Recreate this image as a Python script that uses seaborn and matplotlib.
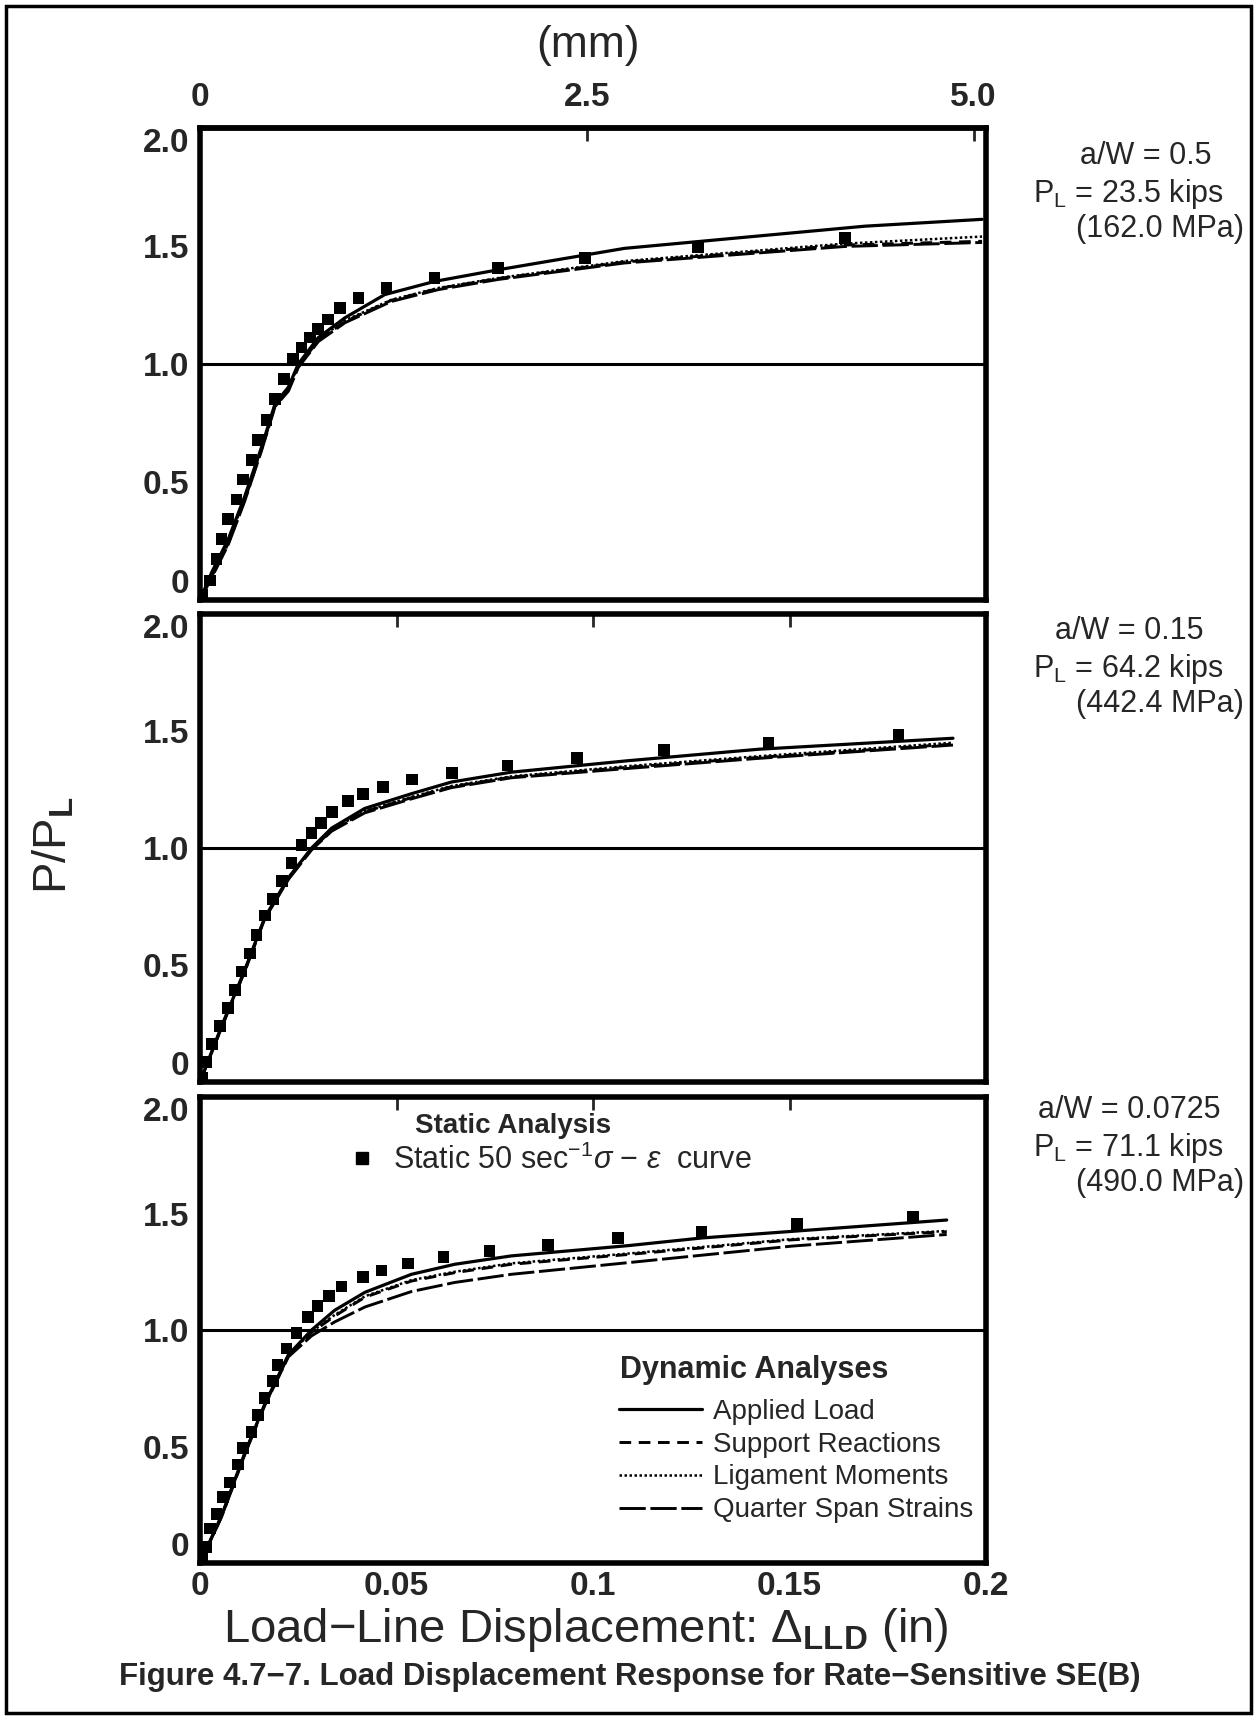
import matplotlib
matplotlib.use("Agg")
import seaborn as sns
import matplotlib.pyplot as plt
from matplotlib.lines import Line2D
from matplotlib.patches import Rectangle

# Panel descriptors (top to bottom)
aw_values = ['0.5', '0.15', '0.0725']
pl_kips = ['23.5', '64.2', '71.1']
pl_mpa = ['162.0', '442.4', '490.0']

# Panel 1: a/W = 0.5  (x: load-line displacement, in; y: P/P_L)
static_x_1 = [0.0005, 0.0025, 0.0042, 0.0055, 0.0072, 0.0093, 0.0110, 0.0131, 0.0148, 0.0169,
              0.0191, 0.0214, 0.0237, 0.0258, 0.0280, 0.0301, 0.0326, 0.0356, 0.0403, 0.0475,
              0.0597, 0.0758, 0.0979, 0.1267, 0.1641]
static_y_1 = [0.02, 0.083, 0.174, 0.258, 0.342, 0.426, 0.510, 0.594, 0.678, 0.762,
              0.853, 0.937, 1.021, 1.070, 1.112, 1.147, 1.189, 1.238, 1.280, 1.322,
              1.364, 1.406, 1.448, 1.497, 1.535]
applied_x_1 = [0, 0.0030, 0.0072, 0.0114, 0.0157, 0.0191, 0.0225, 0.0250, 0.0301, 0.0369,
               0.0470, 0.0597, 0.0758, 0.1080, 0.1692, 0.1990]
applied_y_1 = [0, 0.118, 0.258, 0.440, 0.650, 0.832, 0.902, 1.000, 1.112, 1.196,
               1.294, 1.350, 1.399, 1.490, 1.584, 1.613]
lower_x_1 = [0, 0.0030, 0.0072, 0.0114, 0.0157, 0.0191, 0.0225, 0.0250, 0.0301, 0.0369,
             0.0487, 0.0606, 0.0758, 0.1080, 0.1641, 0.1990]
support_y_1 = [0, 0.100, 0.240, 0.425, 0.640, 0.825, 0.890, 0.990, 1.100, 1.180,
               1.270, 1.320, 1.362, 1.432, 1.504, 1.520]
ligament_y_1 = [0, 0.105, 0.245, 0.430, 0.645, 0.830, 0.895, 0.995, 1.105, 1.185,
                1.272, 1.322, 1.364, 1.436, 1.510, 1.540]
quarter_y_1 = [0, 0.095, 0.235, 0.420, 0.635, 0.820, 0.885, 0.985, 1.095, 1.175,
               1.265, 1.315, 1.358, 1.428, 1.498, 1.515]

# Panel 2: a/W = 0.15
static_x_2 = [0.0005, 0.0017, 0.0030, 0.0051, 0.0072, 0.0089, 0.0106, 0.0127, 0.0144, 0.0165,
              0.0186, 0.0208, 0.0233, 0.0258, 0.0284, 0.0308, 0.0336, 0.0377, 0.0415, 0.0466,
              0.0540, 0.0642, 0.0782, 0.0960, 0.1180, 0.1447, 0.1777]
static_y_2 = [0.02, 0.085, 0.162, 0.239, 0.317, 0.394, 0.472, 0.549, 0.627, 0.711,
              0.782, 0.859, 0.937, 1.014, 1.063, 1.106, 1.155, 1.200, 1.232, 1.261,
              1.292, 1.321, 1.352, 1.385, 1.420, 1.448, 1.482]
applied_x_2 = [0, 0.0055, 0.0114, 0.0165, 0.0225, 0.0284, 0.0335, 0.0419, 0.0538, 0.0640,
               0.0792, 0.1089, 0.1421, 0.1916]
applied_y_2 = [0, 0.239, 0.479, 0.704, 0.873, 1.000, 1.085, 1.169, 1.232, 1.282,
               1.324, 1.373, 1.422, 1.469]
lower_x_2 = applied_x_2
support_y_2 = [0, 0.235, 0.475, 0.700, 0.868, 0.995, 1.075, 1.155, 1.215, 1.262,
               1.303, 1.345, 1.387, 1.444]
ligament_y_2 = [0, 0.237, 0.477, 0.702, 0.870, 0.997, 1.078, 1.158, 1.218, 1.265,
                1.306, 1.350, 1.392, 1.450]
quarter_y_2 = [0, 0.233, 0.473, 0.698, 0.866, 0.992, 1.072, 1.150, 1.210, 1.258,
               1.300, 1.340, 1.383, 1.440]

# Panel 3: a/W = 0.0725
static_x_3 = [0.0005, 0.0017, 0.0025, 0.0042, 0.0059, 0.0076, 0.0096, 0.0110, 0.0131, 0.0147,
              0.0164, 0.0185, 0.0197, 0.0220, 0.0246, 0.0275, 0.0299, 0.0329, 0.0360, 0.0414,
              0.0462, 0.0530, 0.0620, 0.0737, 0.0886, 0.1064, 0.1276, 0.1519, 0.1815]
static_y_3 = [0.02, 0.070, 0.148, 0.211, 0.282, 0.345, 0.423, 0.493, 0.563, 0.634,
              0.708, 0.782, 0.849, 0.920, 0.986, 1.056, 1.103, 1.145, 1.186, 1.228,
              1.256, 1.285, 1.313, 1.338, 1.366, 1.394, 1.422, 1.455, 1.486]
applied_x_3 = [0, 0.0055, 0.0114, 0.0165, 0.0225, 0.0284, 0.0343, 0.0420, 0.0538, 0.0648,
               0.0792, 0.1089, 0.1277, 0.1900]
applied_y_3 = [0, 0.204, 0.472, 0.683, 0.894, 1.000, 1.085, 1.162, 1.239, 1.282,
               1.318, 1.362, 1.395, 1.472]
lower_x_3 = [0, 0.0055, 0.0114, 0.0165, 0.0225, 0.0284, 0.0343, 0.0420, 0.0538, 0.0648,
             0.0792, 0.1089, 0.1506, 0.1900]
support_y_3 = [0, 0.200, 0.468, 0.679, 0.890, 0.990, 1.060, 1.141, 1.210, 1.246,
               1.282, 1.324, 1.387, 1.422]
ligament_y_3 = [0, 0.202, 0.470, 0.681, 0.892, 0.992, 1.065, 1.145, 1.214, 1.250,
                1.286, 1.328, 1.390, 1.425]
quarter_y_3 = [0, 0.198, 0.466, 0.677, 0.885, 0.975, 1.035, 1.099, 1.165, 1.204,
               1.239, 1.289, 1.360, 1.410]

panels = [
    {'static': (static_x_1, static_y_1), 'Applied Load': (applied_x_1, applied_y_1),
     'Support Reactions': (lower_x_1, support_y_1), 'Ligament Moments': (lower_x_1, ligament_y_1),
     'Quarter Span Strains': (lower_x_1, quarter_y_1)},
    {'static': (static_x_2, static_y_2), 'Applied Load': (applied_x_2, applied_y_2),
     'Support Reactions': (lower_x_2, support_y_2), 'Ligament Moments': (lower_x_2, ligament_y_2),
     'Quarter Span Strains': (lower_x_2, quarter_y_2)},
    {'static': (static_x_3, static_y_3), 'Applied Load': (applied_x_3, applied_y_3),
     'Support Reactions': (lower_x_3, support_y_3), 'Ligament Moments': (lower_x_3, ligament_y_3),
     'Quarter Span Strains': (lower_x_3, quarter_y_3)},
]

line_styles = {
    'Applied Load': dict(ls='-', lw=2.3),
    'Support Reactions': dict(ls=(0, (4, 2.6)), lw=2.1),
    'Ligament Moments': dict(ls=(0, (1, 1)), lw=1.8),
    'Quarter Span Strains': dict(ls=(0, (9, 1.6)), lw=2.1),
}

sns.set_style('white')
plt.rcParams['font.family'] = ['Liberation Sans', 'DejaVu Sans']
plt.rcParams['mathtext.fontset'] = 'custom'
plt.rcParams['mathtext.rm'] = 'Liberation Sans'
plt.rcParams['mathtext.it'] = 'Liberation Sans:italic'
plt.rcParams['mathtext.bf'] = 'Liberation Sans:bold'

W, H = 1257, 1719
fig = plt.figure(figsize=(W / 100, H / 100), dpi=100)


def px_rect(left, top, right, bottom):
    return [left / W, 1 - bottom / H, (right - left) / W, (bottom - top) / H]


def fx(px):
    return px / W


def fy(py):
    return 1 - py / H


boxes = [(200, 128, 986, 600), (200, 614, 986, 1082), (200, 1097, 986, 1563)]
# y centres (px) of the three annotation lines next to each panel
note_rows = [(156, 194, 229), (631, 669, 704), (1110, 1148, 1183)]
note_x = [1146, 1129, 1129]
tick_size = 24

axes = []
for i, (box, data) in enumerate(zip(boxes, panels)):
    ax = fig.add_axes(px_rect(*box))
    axes.append(ax)
    sns.scatterplot(x=data['static'][0], y=data['static'][1], marker='s', color='black',
                    s=70, edgecolor='none', ax=ax, zorder=3)
    for name, st in line_styles.items():
        sns.lineplot(x=data[name][0], y=data[name][1], color='black', errorbar=None,
                     linestyle=st['ls'], linewidth=st['lw'], ax=ax)
    ax.axhline(1.0, color='black', lw=2.2)
    ax.set_xlim(0, 0.2)
    ax.set_ylim(0, 2.0)
    for sp in ax.spines.values():
        sp.set_linewidth(4)
        sp.set_color('black')
    ax.set_yticks([0, 0.5, 1.0, 1.5, 2.0])
    ylabels = ax.set_yticklabels(['0', '0.5', '1.0', '1.5', '2.0'], fontweight='bold')
    ylabels[0].set_va('bottom')
    ylabels[-1].set_va('top')
    ax.set_xticks([0, 0.05, 0.1, 0.15, 0.2])
    ax.set_xticklabels(['0', '0.05', '0.1', '0.15', '0.2'], fontweight='bold')
    ax.tick_params(direction='in', length=9, width=2, labelsize=tick_size, pad=6,
                   top=(i > 0), labelbottom=(i == 2))
    ax.tick_params(axis='y', pad=8)

    r1, r2, r3 = note_rows[i]
    fig.text(fx(note_x[i]), fy(r1), f'a/W = {aw_values[i]}', fontsize=22,
             ha='center', va='center')
    fig.text(fx(1129), fy(r2), f'P$_\\mathregular{{L}}$ = {pl_kips[i]} kips',
             fontsize=22, ha='center', va='center')
    fig.text(fx(1244), fy(r3), f'({pl_mpa[i]} MPa)', fontsize=22,
             ha='right', va='center')

# top axis in millimetres
sec = axes[0].secondary_xaxis('top', functions=(lambda x: x * 25.4, lambda m: m / 25.4))
sec.set_xticks([0, 2.5, 5.0])
sec.set_xticklabels(['0', '2.5', '5.0'], fontweight='bold')
sec.tick_params(direction='in', length=9, width=2, labelsize=tick_size, pad=11)
sec.spines['top'].set_linewidth(4)
fig.text(fx(588), fy(45), '(mm)', fontsize=32, ha='center', va='center')

# legends in the bottom panel
ax3 = axes[2]
fig.text(fx(513), fy(1126), 'Static Analysis', fontsize=20, fontweight='bold',
         ha='center', va='center')
static_handle = [Line2D([], [], marker='s', color='black', ls='none', markersize=8.5)]
leg1 = ax3.legend(static_handle, ['Static 50 sec$^{-1}$$\\sigma$ − $\\varepsilon$  curve'],
                  loc='center left', frameon=False, fontsize=22,
                  bbox_to_anchor=(fx(347), fy(1160)), bbox_transform=fig.transFigure,
                  handlelength=1.0, handletextpad=0.5, borderpad=0, borderaxespad=0)
ax3.add_artist(leg1)

fig.text(fx(754), fy(1370), 'Dynamic Analyses', fontsize=22, fontweight='bold',
         ha='center', va='center')
dyn_handles = [Line2D([], [], color='black', linestyle=st['ls'], linewidth=st['lw'])
               for st in line_styles.values()]
ax3.legend(dyn_handles, list(line_styles.keys()),
           loc='center left', frameon=False, fontsize=20,
           bbox_to_anchor=(fx(619), fy(1461)), bbox_transform=fig.transFigure,
           handlelength=3.0, handletextpad=0.4, labelspacing=0.25, borderpad=0,
           borderaxespad=0)

fig.text(fx(54), fy(845), 'P/P$_\\mathbf{L}$', fontsize=34, rotation=90,
         ha='center', va='center')
fig.text(fx(586), fy(1630), 'Load−Line Displacement: Δ$_\\mathbf{LLD}$ (in)', fontsize=34,
         ha='center', va='center')
fig.text(fx(630), fy(1677), 'Figure 4.7−7. Load Displacement Response for Rate−Sensitive SE(B)',
         fontsize=22.5, fontweight='bold', ha='center', va='center')

fig.patches.append(Rectangle((fx(6), fy(1713)), fx(1245), 1 - fy(1707), transform=fig.transFigure,
                             fill=False, edgecolor='black', linewidth=2.5))

fig.savefig('out.png', dpi=100)
